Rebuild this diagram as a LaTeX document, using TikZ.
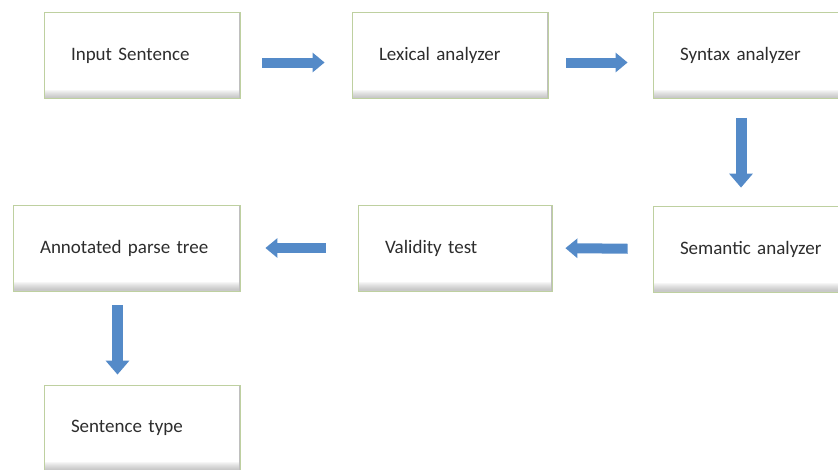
\documentclass[tikz,border=0pt]{standalone}
\usepackage{fontspec}
\setmainfont{Carlito}
\usetikzlibrary{arrows.meta}
\definecolor{boxline}{RGB}{190,208,160}
\definecolor{arrowblue}{RGB}{84,138,200}
\definecolor{boxtext}{RGB}{45,45,45}
\tikzset{
  stage/.style={draw=boxline, line width=0.8pt, fill=white,
    path picture={
      \foreach \k in {1,...,8}
        \fill[black!45, opacity=0.07]
          (path picture bounding box.south west) rectangle ([yshift=10pt-\k pt]path picture bounding box.south east);
      \draw[black!25, line width=1.4pt]
        (path picture bounding box.north east) -- (path picture bounding box.south east);
    },
    minimum height=86pt, inner xsep=27pt, align=left,
    text=boxtext, font=\fontsize{19}{23}\selectfont},
  flow/.style={draw=arrowblue, line width=10pt,
    -{Triangle[length=12pt,width=19pt]}, arrowblue},
  drop/.style={draw=arrowblue, line width=11pt,
    -{Triangle[length=14pt,width=23pt]}, arrowblue}
}
\begin{document}
\begin{tikzpicture}[x=1pt,y=-1pt]
        \useasboundingbox (0,0) rectangle (838,469);
        \clip (0,0) rectangle (838,469);
        \node[stage, text width=142pt] (input) at (142,55.5) {Input Sentence};
        \node[stage, text width=142pt] (lexer) at (450,55.5) {Lexical analyzer};
        \node[stage, text width=142pt] (syntax) at (751,55.5) {Syntax analyzer};
        \node[stage, text width=142pt] (semantic) at (751,249) {Semantic analyzer};
        \node[stage, text width=140pt] (valid) at (455,248) {Validity test};
        \node[stage, text width=173pt] (tree) at (126.5,248) {Annotated parse tree};
        \node[stage, text width=142pt] (type) at (142,428) {Sentence type};

        \draw[flow, shorten <=22pt, shorten >=27pt] ([yshift=-7pt]input.east) -- ([yshift=-7pt]lexer.west);
        \draw[flow, shorten <=18pt, shorten >=25pt] ([yshift=-7pt]lexer.east) -- ([yshift=-7pt]syntax.west);
        \draw[drop, shorten <=19pt, shorten >=18pt] ([xshift=-10pt]syntax.south) -- ([xshift=-10pt]semantic.north);
        \draw[flow, shorten <=25pt, shorten >=13pt] (semantic.west) -- (valid.east);
        \draw[flow, shorten <=32pt, shorten >=25pt] (valid.west) -- (tree.east);
        \draw[drop, shorten <=14pt, shorten >=10pt] ([xshift=-9pt]tree.south) -- ([xshift=-9pt]tree.south |- type.north);
\end{tikzpicture}
\end{document}
